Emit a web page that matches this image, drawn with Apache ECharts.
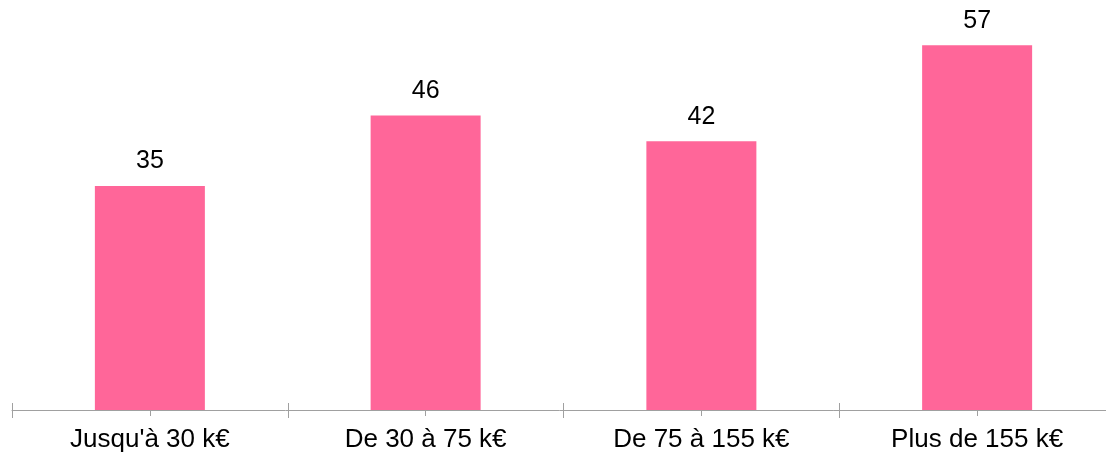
<!DOCTYPE html>
<html>
<head>
<meta charset="utf-8">
<script src="https://cdn.jsdelivr.net/npm/echarts@6/dist/echarts.min.js"></script>
<style>html,body{margin:0;padding:0;background:#fff}#c{width:1106px;height:457px}</style>
</head>
<body>
<div id="c"></div>
<script>
const categories = ["Jusqu'à 30 k€", "De 30 à 75 k€", "De 75 à 155 k€", "Plus de 155 k€"];
const values = [35, 46, 42, 57];

const chart = echarts.init(document.getElementById('c'), null, {renderer: 'canvas'});
const axisColor = '#a0a0a0';
const font = 'Liberation Sans, Arial, sans-serif';
function tickAxis(inside, len, align) {
  return {
    type: 'category', data: categories, position: 'bottom',
    axisLine: {show: false},
    axisLabel: {show: false},
    axisTick: {show: true, inside: inside, length: len, alignWithLabel: align, lineStyle: {color: axisColor, width: 1}}
  };
}
chart.setOption({
  animation: false,
  grid: {left: 12, top: 26, width: 1103, bottom: 47, containLabel: false, outerBoundsMode: 'none'},
  xAxis: [
    {
      type: 'category', data: categories, position: 'bottom',
      axisLine: {show: true, lineStyle: {color: axisColor, width: 1}},
      axisTick: {show: true, length: 8, lineStyle: {color: axisColor}},
      axisLabel: {color: '#000', fontSize: 26, fontFamily: font, margin: 17}
    },
    tickAxis(true, 7, false),
    tickAxis(false, 6, true),
    tickAxis(true, 5, true)
  ],
  yAxis: {type: 'value', min: 0, max: 60, show: false, splitLine: {show: false}},
  series: [{
    type: 'bar', data: values, xAxisIndex: 0, barWidth: 110,
    itemStyle: {color: '#FF6699'},
    label: {show: true, position: 'top', distance: 12, color: '#000', fontSize: 25, fontFamily: font}
  }]
});
</script>
</body>
</html>
